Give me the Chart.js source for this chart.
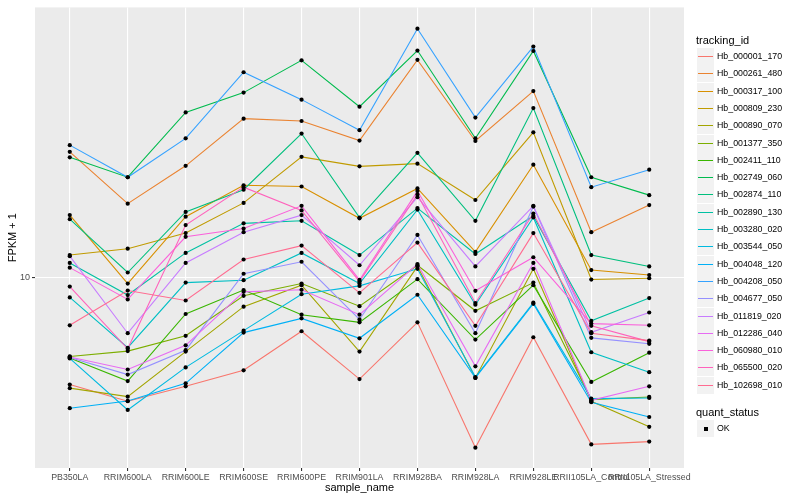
<!DOCTYPE html>
<html>
<head>
<meta charset="utf-8">
<script src="https://cdn.jsdelivr.net/npm/chart.js@4.4.1/dist/chart.umd.min.js"></script>
<style>
  body { margin: 0; background: #fff; font-family: "Liberation Sans", Arial, sans-serif; }
  #wrap { position: relative; width: 800px; height: 500px; }
  #legend div { position: absolute; white-space: nowrap; color: #000; }
  .ttl { font-size: 11px; line-height: 13px; }
  .key { width: 17px; height: 17px; background: #F2F2F2; }
  .lab { font-size: 8.8px; line-height: 17px; }
</style>
</head>
<body>
<div id="wrap">
  <canvas id="chart" width="800" height="500"></canvas>
  <div id="legend"></div>
</div>
<script>
// sample names on the x axis
const categories = ['PB350LA', 'RRIM600LA', 'RRIM600LE', 'RRIM600SE', 'RRIM600PE', 'RRIM901LA',
  'RRIM928BA', 'RRIM928LA', 'RRIM928LE', 'RRII105LA_Control', 'RRII105LA_Stressed'];

const trackingIds = ['Hb_000001_170', 'Hb_000261_480', 'Hb_000317_100', 'Hb_000809_230', 'Hb_000890_070',
  'Hb_001377_350', 'Hb_002411_110', 'Hb_002749_060', 'Hb_002874_110', 'Hb_002890_130',
  'Hb_003280_020', 'Hb_003544_050', 'Hb_004048_120', 'Hb_004208_050', 'Hb_004677_050',
  'Hb_011819_020', 'Hb_012286_040', 'Hb_060980_010', 'Hb_065500_020', 'Hb_102698_010'];

// FPKM + 1, one value per sample
const hb_000001_170 = [4.38, 3.85, 4.32, 4.89, 6.61, 4.57, 7.08, 2.69, 6.31, 2.76, 2.82];
const hb_000261_480 = [26.4, 17.7, 23.7, 34.1, 33.5, 28.8, 53.7, 28.7, 42.2, 14.2, 17.5];
const hb_000317_100 = [16.2, 9.55, 16.0, 20.4, 20.2, 15.8, 19.9, 12.2, 23.9, 10.6, 10.2];
const hb_000809_230 = [11.9, 12.5, 14.1, 17.8, 25.4, 23.6, 24.1, 18.2, 30.7, 9.85, 9.95];
const hb_000890_070 = [4.26, 3.99, 5.65, 7.99, 9.43, 5.65, 10.9, 4.61, 10.7, 3.85, 3.16];
const hb_001377_350 = [5.44, 5.67, 6.38, 8.69, 9.55, 8.02, 11.0, 7.74, 9.62, 3.90, 3.98];
const hb_002411_110 = [5.38, 4.50, 7.55, 9.08, 7.51, 7.08, 9.88, 6.20, 9.43, 4.47, 5.60];
const hb_002749_060 = [25.3, 21.7, 35.8, 41.7, 53.5, 37.4, 57.7, 29.3, 57.5, 21.7, 18.9];
const hb_002874_110 = [15.7, 10.4, 16.6, 19.7, 30.4, 15.9, 26.2, 15.5, 37.0, 11.9, 10.9];
const hb_002890_130 = [11.2, 8.74, 12.1, 15.2, 15.5, 11.9, 17.1, 12.0, 16.1, 7.16, 8.54];
const hb_003280_020 = [8.58, 5.82, 9.62, 9.80, 12.1, 9.55, 16.9, 8.11, 15.9, 5.62, 4.82];
const hb_003544_050 = [5.36, 3.60, 5.00, 6.64, 8.80, 9.38, 10.7, 4.64, 8.24, 3.93, 3.95];
const hb_004048_120 = [3.65, 3.86, 4.42, 6.54, 7.30, 6.26, 8.76, 4.61, 8.17, 3.82, 3.41];
const hb_004208_050 = [27.8, 21.7, 29.3, 48.8, 39.5, 31.2, 68.3, 34.4, 59.5, 20.1, 23.0];
const hb_004677_050 = [5.40, 4.73, 5.71, 10.3, 11.3, 7.24, 13.9, 6.51, 17.3, 6.28, 6.00];
const hb_011819_020 = [11.8, 6.51, 11.2, 14.2, 16.2, 11.0, 18.6, 10.9, 17.4, 6.56, 7.64];
const hb_012286_040 = [5.42, 4.92, 5.93, 8.96, 9.10, 7.51, 11.1, 5.04, 11.2, 3.88, 4.32];
const hb_060980_010 = [10.8, 8.45, 13.7, 14.6, 17.4, 9.82, 19.5, 9.03, 11.7, 7.01, 6.92];
const hb_065500_020 = [9.33, 5.77, 15.0, 20.1, 16.8, 9.70, 19.0, 8.22, 16.4, 6.89, 6.10];
const hb_102698_010 = [6.92, 9.05, 8.38, 11.5, 12.8, 8.89, 13.1, 6.89, 14.1, 6.51, 6.15];

const seriesValues = [hb_000001_170, hb_000261_480, hb_000317_100, hb_000809_230, hb_000890_070,
  hb_001377_350, hb_002411_110, hb_002749_060, hb_002874_110, hb_002890_130,
  hb_003280_020, hb_003544_050, hb_004048_120, hb_004208_050, hb_004677_050,
  hb_011819_020, hb_012286_040, hb_060980_010, hb_065500_020, hb_102698_010];

const yTicks = [10];

// ggplot default hue palette, 20 levels
const colors = ['#F8766D', '#EA8331', '#D89000', '#C09B00', '#A3A500', '#7CAE00', '#39B600', '#00BB4E',
  '#00BF7D', '#00C1A3', '#00BFC4', '#00BAE0', '#00B0F6', '#35A2FF', '#9590FF', '#C77CFF',
  '#E76BF3', '#FA62DB', '#FF62BC', '#FF6C91'];

const FONT = '"Liberation Sans", Arial, sans-serif';
Chart.defaults.font.family = FONT;

const toPts = vals => vals.map((v, i) => ({ x: i, y: v }));

const datasets = seriesValues.map((vals, k) => ({
  label: trackingIds[k],
  data: toPts(vals),
  borderColor: colors[k],
  borderWidth: 1.1,
  pointRadius: 0,
  fill: false,
  tension: 0,
  order: seriesValues.length - k
}));

// points layer on top of all lines
datasets.push({
  label: 'OK',
  data: seriesValues.flatMap(toPts),
  showLine: false,
  pointRadius: 2.1,
  pointBackgroundColor: '#000',
  pointBorderWidth: 0,
  order: 0
});

const panelBg = {
  id: 'panelBg',
  beforeDraw(chart) {
    const { ctx, chartArea: a } = chart;
    ctx.save();
    ctx.fillStyle = '#EBEBEB';
    ctx.fillRect(a.left, a.top, a.right - a.left, a.bottom - a.top);
    ctx.restore();
  }
};

new Chart(document.getElementById('chart'), {
  type: 'line',
  data: { datasets },
  plugins: [panelBg],
  options: {
    responsive: false,
    animation: false,
    layout: { padding: { top: 5, right: 116, left: 0, bottom: 0 } },
    plugins: { legend: { display: false }, tooltip: { enabled: false } },
    scales: {
      x: {
        type: 'linear',
        min: -0.6,
        max: 10.6,
        bounds: 'data',
        afterBuildTicks: s => { s.ticks = categories.map((c, i) => ({ value: i })); },
        afterFit: s => { s.height = 32; },
        grid: { color: '#fff', lineWidth: 1.1, tickLength: 3, tickColor: '#333' },
        border: { display: false },
        ticks: {
          color: '#4D4D4D', font: { size: 8.8 }, padding: 1,
          autoSkip: false, maxRotation: 0, minRotation: 0,
          callback: v => categories[v] ?? ''
        },
        title: { display: true, text: 'sample_name', color: '#000', font: { size: 11 }, padding: { top: 0, bottom: 5 } }
      },
      y: {
        type: 'logarithmic',
        min: 2.30,
        max: 80.5,
        bounds: 'data',
        afterBuildTicks: s => { s.ticks = yTicks.map(v => ({ value: v })); },
        afterFit: s => { s.width = 35; },
        grid: { color: '#fff', lineWidth: 1.1, tickLength: 3, tickColor: '#333' },
        border: { display: false },
        ticks: { color: '#4D4D4D', font: { size: 9 }, padding: 2, callback: v => String(v) },
        title: { display: true, text: 'FPKM + 1', color: '#000', font: { size: 11 }, padding: { top: 6, bottom: 0 } }
      }
    }
  }
});

// ggplot-style legend
const legend = document.getElementById('legend');
function add(cls, left, top, html) {
  const d = document.createElement('div');
  d.className = cls;
  d.style.left = left + 'px';
  d.style.top = top + 'px';
  d.innerHTML = html;
  legend.appendChild(d);
  return d;
}
function inner(parent, left, top, w, h, bg) {
  const d = document.createElement('div');
  Object.assign(d.style, { left: left + 'px', top: top + 'px', width: w + 'px', height: h + 'px', backgroundColor: bg });
  parent.appendChild(d);
}
add('ttl', 696, 34, 'tracking_id');
trackingIds.forEach((id, k) => {
  const top = Math.round(48 + 17.3 * k);
  const key = add('key', 697, top, '');
  inner(key, 1, 7.5, 15, 1.6, colors[k]);
  add('lab', 717, top, id);
});
add('ttl', 696, 406, 'quant_status');
const okKey = add('key', 697, 420, '');
inner(okKey, 7, 7, 4, 4, '#000');
add('lab', 717, 420, 'OK');
</script>
</body>
</html>
